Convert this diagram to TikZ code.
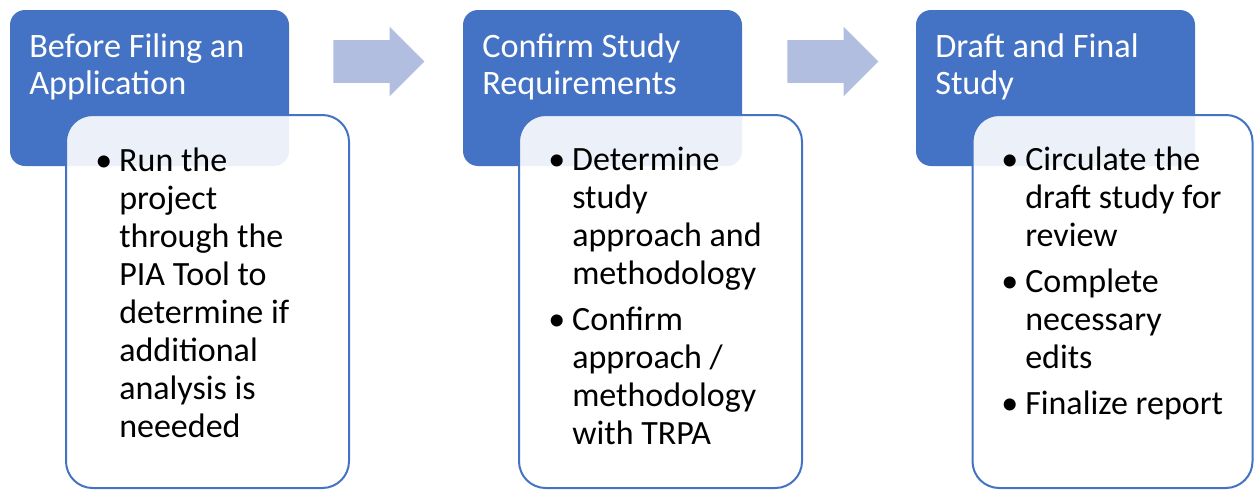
\documentclass[tikz,border=0pt]{standalone}
\usepackage{fontspec}
\setmainfont{Carlito}
\usetikzlibrary{shapes.arrows}
\definecolor{stepblue}{HTML}{4472C4}
\definecolor{arrowblue}{HTML}{B1BEE0}
\newcommand{\bul}{\makebox[18pt][l]{\textbullet}}

\begin{document}
\begin{tikzpicture}[x=0.75pt, y=-0.75pt,
    header/.style={fill=stepblue, rounded corners=11.25pt, minimum width=209.25pt,
                   minimum height=117pt, inner sep=0pt},
    card/.style={draw=stepblue, line width=1.5pt, fill=white, fill opacity=0.9,
                 rounded corners=20pt, minimum width=212.25pt, minimum height=279.75pt, inner sep=0pt},
    title/.style={anchor=base west, inner sep=0pt, text=white, font=\fontsize{25.7}{27.75}\selectfont},
    items/.style={anchor=base west, inner sep=0pt, font=\fontsize{25.5}{28.5}\selectfont},
    flow/.style={single arrow, fill=arrowblue, minimum height=68.25pt, inner xsep=0pt,
                 inner ysep=15.75pt, single arrow head extend=10.125pt, anchor=tail}]
    \useasboundingbox (0,0) rectangle (1255,489);

    % blue headers, then the cards lying over them
    \foreach \x in {0,453,906}{\node[header] (hdr\x) at (149.5+\x,88) {};}
    \node[card] (card1) at (207.5,301.5) {};
    \node[card] (card2) at (660.5,301.5) {};
    \node[card, minimum width=210pt] (card3) at (1112.5,301.5) {};

    \node[title] (ttl1) at (29,57) {\begin{tabular}[t]{@{}l@{}}Before Filing an\\ Application\end{tabular}};
    \node[title] (ttl2) at (482,57) {\begin{tabular}[t]{@{}l@{}}Confirm Study\\ Requirements\end{tabular}};
    \node[title] (ttl3) at (935,57) {\begin{tabular}[t]{@{}l@{}}Draft and Final\\ Study\end{tabular}};

    \node[items] (lst1) at (95,171) {\begin{tabular}[t]{@{}l@{}l@{}}
        \bul & Run the\\ & project\\ & through the\\ & PIA Tool to\\
             & determine if\\ & additional\\ & analysis is\\ & neeeded\end{tabular}};
    \node[items] (lst2) at (548,170) {\begin{tabular}[t]{@{}l@{}l@{}}
        \bul & Determine\\ & study\\ & approach and\\ & methodology\\[6pt]
        \bul & Confirm\\ & approach /\\ & methodology\\ & with TRPA\end{tabular}};
    \node[items] (lst3) at (1001,170) {\begin{tabular}[t]{@{}l@{}l@{}}
        \bul & Circulate the\\ & draft study for\\ & review\\[6pt]
        \bul & Complete\\ & necessary\\ & edits\\[6pt]
        \bul & Finalize report\end{tabular}};

    \node[flow] (arr1) at (333,61.5) {};
    \node[flow] (arr2) at (787,61.5) {};
\end{tikzpicture}
\end{document}
